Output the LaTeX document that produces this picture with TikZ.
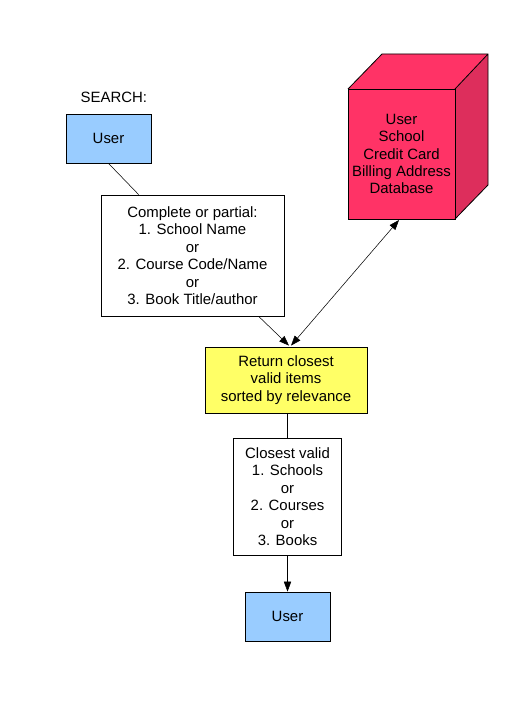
\documentclass[tikz,border=0pt]{standalone}
\usepackage{fontspec}
\setmainfont{Liberation Sans}
\usetikzlibrary{arrows.meta,calc}
\begin{document}
\begin{tikzpicture}[x=0.75pt,y=-0.75pt,
  every node/.style={font=\fontsize{11.2}{13.1}\selectfont},
  box/.style={draw,line width=0.6pt,align=center,inner sep=0pt},
  userbox/.style={box,fill=userblue,minimum width=63.75pt,minimum height=36.75pt},
  conn/.style={line width=0.4pt},
  arr/.style={conn,-{Triangle[length=7.5pt,width=5.5pt]}},
  darr/.style={conn,{Triangle[length=7.5pt,width=5.5pt]}-{Triangle[length=7.5pt,width=5.5pt]}}]
\definecolor{userblue}{HTML}{99CCFF}
\definecolor{yel}{HTML}{FFFF66}
\definecolor{dbfront}{HTML}{FF3366}
\definecolor{dbside}{HTML}{DD2E5C}
\definecolor{dbtop}{HTML}{FF3366}
\useasboundingbox (0,0) rectangle (512,724);
% labels and boxes
\node[anchor=west] (search) at (76,97) {SEARCH:};
\node[userbox] (u1) at (108.5,138.5) {User};
\node[box,minimum width=137.25pt,minimum height=90.75pt] (c) at (192.5,255.5)
  {Complete or partial:\\1. School Name\\or\\2. Course Code/Name\\or\\3. Book Title/author};
\node[box,fill=yel,minimum width=121.5pt,minimum height=49.5pt] (r) at (286,380)
  {Return closest\\valid items\\sorted by relevance};
\node[box,minimum width=81pt,minimum height=87.75pt] (cv) at (287.5,496.5)
  {Closest valid\\ 1. Schools\\or\\2. Courses\\or\\3. Books};
\node[userbox] (u2) at (287.5,616.5) {User};
% database cube
\coordinate (f1) at (348,89);
\coordinate (f2) at (455,89);
\coordinate (f3) at (455,219);
\coordinate (f4) at (348,219);
\coordinate (b1) at (382,54);
\coordinate (b2) at (488,54);
\coordinate (b3) at (488,185);
\fill[dbtop] (f1) -- (b1) -- (b2) -- (f2) -- cycle;
\fill[dbside] (f2) -- (b2) -- (b3) -- (f3) -- cycle;
\draw[line width=0.6pt,fill=dbfront] (f1) rectangle (f3);
\draw[line width=0.6pt] (f1) -- (b1) -- (b2) -- (b3) -- (f3) (f2) -- (b2);
\node[align=center] (db) at (401.5,154) {User\\School\\Credit Card\\Billing Address\\Database};
\coordinate (dbb) at (399,220);
% connectors
\draw[conn] (u1.south) -- ($(c.north west)!0.207!(c.north east)$);
\draw[arr] ($(c.south west)!0.86!(c.south east)$) -- ($(r.north)+(3,-1)$);
\draw[darr] ($(r.north)+(5,-1)$) -- (dbb);
\draw[conn] (r.south -| cv.north) -- (cv.north);
\draw[arr] (cv.south) -- (u2.north);
\end{tikzpicture}
\end{document}
